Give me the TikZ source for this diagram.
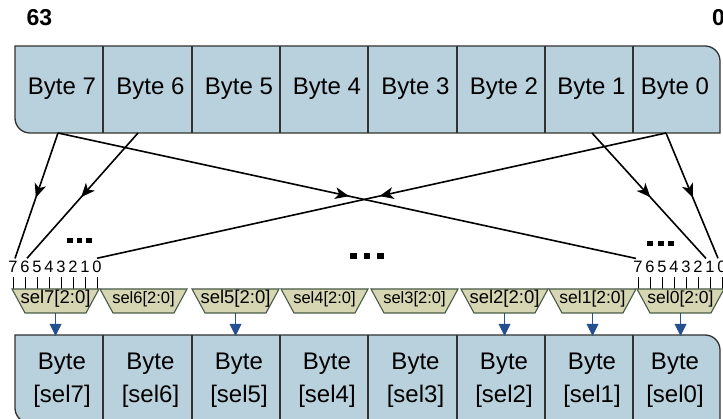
\documentclass[tikz,border=0pt]{standalone}
\usepackage{fontspec}
\setmainfont{Liberation Sans}
\usetikzlibrary{arrows.meta,decorations.markings,calc}
\definecolor{cellfill}{RGB}{185,209,220}
\definecolor{cellline}{RGB}{50,50,50}
\definecolor{selfill}{RGB}{214,214,178}
\definecolor{selline}{RGB}{70,90,70}
\definecolor{arrowblue}{RGB}{36,80,143}
\begin{document}
\begin{tikzpicture}[x=1pt,y=-1pt,
  boxpath/.style={draw=cellline, fill=cellfill, line width=1.3pt},
  divider/.style={draw=cellline, line width=1.2pt},
  celltext/.style={font=\fontsize{24}{24}\selectfont, inner sep=0pt, anchor=base},
  bittext/.style={font=\fontsize{16.5}{16.5}\selectfont, inner sep=0pt, anchor=base},
  headtext/.style={font=\fontsize{23}{23}\selectfont\bfseries, inner sep=0pt},
  conn/.style={line width=1.6pt, postaction={decorate},
    decoration={markings, mark=at position 0.5 with {\fill[black] (2pt,0pt) -- (-12pt,6pt) -- (-8pt,0pt) -- (-12pt,-6pt) -- cycle;}}},
  bittick/.style={line width=0.9pt},
  selshape/.style={draw=selline, fill=selfill, line width=1.1pt},
  seltext/.style={inner sep=0pt, anchor=base},
  downline/.style={draw=arrowblue, line width=1.8pt},
  downhead/.style={fill=arrowblue},
  dotsq/.style={fill=black},
]
\useasboundingbox (0,0) rectangle (723,419);

% header labels
\node[headtext, anchor=base] (msb) at (39.5,26) {63};
\node[headtext, anchor=base west] (lsb) at (712,26) {0};

% top register
\path[boxpath] (15,46) -- (705,46) .. controls (713.3,46) and (720,52.7) .. (720,61)
  -- (720,133) -- (30,133) .. controls (21.7,133) and (15,126.3) .. (15,118) -- cycle;
\foreach \x in {103,192,280,368,457,545,633} \draw[divider] (\x,46) -- (\x,133);
\node[celltext] (t7) at (62,95) {Byte 7};
\node[celltext] (t6) at (150.5,95) {Byte 6};
\node[celltext] (t5) at (239,95) {Byte 5};
\node[celltext] (t4) at (327,95) {Byte 4};
\node[celltext] (t3) at (415.5,95) {Byte 3};
\node[celltext] (t2) at (504,95) {Byte 2};
\node[celltext] (t1) at (591.5,95) {Byte 1};
\node[celltext] (t0) at (675,95) {Byte 0};

% bottom register
\path[boxpath] (15,335) -- (705,335) .. controls (713.3,335) and (720,341.7) .. (720,350)
  -- (720,423) -- (30,423) .. controls (21.7,423) and (15,416.3) .. (15,408) -- cycle;
\foreach \x in {103,192,280,368,457,545,633} \draw[divider] (\x,335) -- (\x,423);
\foreach \n/\x in {7/62,6/150.5,5/239,4/327,3/415.5,2/504,1/592,0/675}{
  \node[celltext] (bt\n) at (\x,370) {Byte};
  \node[celltext] (bs\n) at (\x,403) {[sel\n]};
}

% bit labels and ticks
\foreach \d/\x in {7/13,6/25,5/37,4/49,3/61,2/73,1/85,0/97}{
  \node[bittext] (a\d) at (\x,273) {\d};
  \draw[bittick] (\x,277) -- (\x,289);
}
\foreach \d/\x in {7/638,6/650,5/662,4/674,3/686,2/698,1/710,0/722}{
  \node[bittext] (z\d) at (\x,273) {\d};
  \draw[bittick] (\x,277) -- (\x,289);
}

% selectors
\foreach \n/\l/\fs in {7/12/18.5,6/100/16.5,5/192/18.5,4/281/16.5,3/371/16.5,2/461/18.5,1/549/17.5,0/637/17.5}{
  \path[selshape] (\l,289) -- (\l+87,289) -- (\l+74,313) -- (\l+13,313) -- cycle;
  \node[seltext, font=\fontsize{\fs}{\fs}\selectfont] (s\n) at (\l+43.5,304) {sel\n[2:0]};
  \coordinate (sb\n) at (\l+43.5,313);
}

% selector outputs
\foreach \n in {7,5,2,1,0}{
  \draw[downline] (sb\n) -- ++(0,12);
  \fill[downhead] ($(sb\n)+(-6,11)$) -- ($(sb\n)+(6,11)$) -- ($(sb\n)+(0,23)$) -- cycle;
}

% crossbar connectors
\coordinate (p7) at (58,133);
\coordinate (p6) at (138,133);
\coordinate (p1) at (592,133);
\coordinate (p0) at (666,133);
\draw[conn] (p7) -- ($(a7.north)+(2,-3)$);
\draw[conn] (p6) -- ($(a6.north)+(2,-3)$);
\draw[conn] (p7) -- ($(z7.north)+(-2,-3)$);
\draw[conn] (p0) -- ($(a0.north)+(0,-3)$);
\draw[conn] (p1) -- ($(z1.north)+(-4,-3)$);
\draw[conn] (p0) -- ($(z0.north)+(-4,-3)$);

% ellipses
\foreach \x in {67,76.5,86} \fill[dotsq] (\x,238) rectangle ++(5.5,5);
\foreach \x in {350,363.5,377} \fill[dotsq] (\x,253) rectangle ++(6.5,6);
\foreach \x in {647,657.5,667.5} \fill[dotsq] (\x,241) rectangle ++(6,5.5);
\end{tikzpicture}
\end{document}
